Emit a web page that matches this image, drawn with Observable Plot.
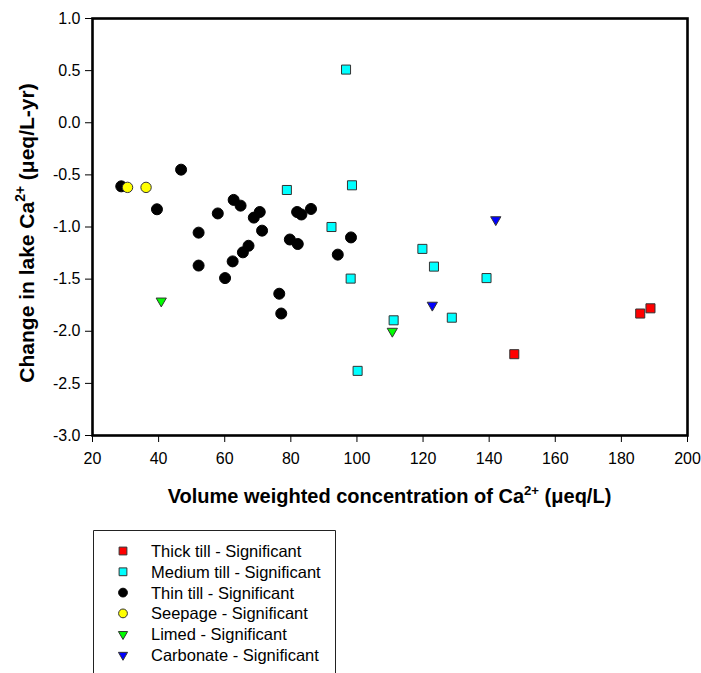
<!DOCTYPE html>
<html><head><meta charset="utf-8">
<script src="https://cdn.jsdelivr.net/npm/d3@7"></script>
<script src="https://cdn.jsdelivr.net/npm/@observablehq/plot@0.6"></script>
<style>body{margin:0;background:#fff;}</style>
</head><body><div id="chart"></div>
<script>
// ---- data ----
const thickX = [147.6, 185.7, 188.8];
const thickY = [-2.22, -1.83, -1.78];
const mediumX = [96.7, 78.8, 98.5, 92.3, 98.1, 111.1, 100.2, 119.8, 123.3, 139.2, 128.7];
const mediumY = [0.51, -0.645, -0.60, -1.00, -1.495, -1.895, -2.38, -1.21, -1.38, -1.49, -1.87];
const thinX = [28.7, 46.8, 39.5, 57.9, 62.7, 64.8, 68.8, 70.6, 71.3, 52.1, 52.1, 62.4, 65.5, 67.2, 60.1, 76.5, 77.1, 81.9, 83.2, 86.1, 79.7, 82.1, 98.2, 94.2];
const thinY = [-0.61, -0.45, -0.83, -0.87, -0.74, -0.795, -0.91, -0.856, -1.035, -1.054, -1.37, -1.33, -1.243, -1.18, -1.49, -1.64, -1.83, -0.856, -0.88, -0.827, -1.12, -1.163, -1.10, -1.265];
const seepageX = [30.6, 36.2];
const seepageY = [-0.62, -0.62];
const limedX = [40.8, 110.7];
const limedY = [-1.71, -2.00];
const carbonateX = [142.0, 122.8];
const carbonateY = [-0.93, -1.75];
const seriesNames = ["Thick till - Significant", "Medium till - Significant", "Thin till - Significant", "Seepage - Significant", "Limed - Significant", "Carbonate - Significant"];
const xTicks = [20, 40, 60, 80, 100, 120, 140, 160, 180, 200];
const yTicks = [1.0, 0.5, 0.0, -0.5, -1.0, -1.5, -2.0, -2.5, -3.0];
const xTitle = ["Volume weighted concentration of Ca", "2+", " (\u03bceq/L)"];
const yTitle = ["Change in lake Ca", "2+", " (\u03bceq/L-yr)"];

// ---- styles ----
const seriesStyle = [
  {symbol: "square", fill: "#FF0000", stroke: "#333", r: 5.1, lr: 4.4},
  {symbol: "square", fill: "#00FFFF", stroke: "#333", r: 5.1, lr: 4.4},
  {symbol: "circle", fill: "#000000", stroke: "#000", r: 5.5, lr: 4.4},
  {symbol: "circle", fill: "#FFFF00", stroke: "#333", r: 5.2, lr: 4.4},
  {symbol: "triangle", fill: "#00FF00", stroke: "#333", r: 3.8, lr: 3.4, rotate: 180},
  {symbol: "triangle", fill: "#0000FF", stroke: "#333", r: 3.8, lr: 3.4, rotate: 180}
];
const seriesX = [thickX, mediumX, thinX, seepageX, limedX, carbonateX];
const seriesY = [thickY, mediumY, thinY, seepageY, limedY, carbonateY];
const tables = seriesX.map((xs, i) => xs.map((x, j) => ({series: seriesNames[i], x, y: seriesY[i][j]})));

const font = "'Liberation Sans', Arial, sans-serif";

const plot = Plot.plot({
  width: 701, height: 673,
  marginLeft: 92, marginRight: 14, marginTop: 18, marginBottom: 238,
  style: {fontFamily: font, fontSize: "16px", color: "black", background: "white"},
  x: {domain: [20, 200]},
  y: {domain: [-3, 1]},
  marks: [
    Plot.axisX({ticks: xTicks, tickSize: 7, tickPadding: 10, fontSize: 16, label: null, tickFormat: d => String(d)}),
    Plot.axisY({ticks: yTicks, tickSize: 7, tickPadding: 5, fontSize: 16, label: null, tickFormat: d => d.toFixed(1)}),
    ...tables.map((t, i) => Plot.dot(t, {
      x: "x", y: "y",
      symbol: seriesStyle[i].symbol,
      r: seriesStyle[i].r,
      fill: seriesStyle[i].fill,
      stroke: seriesStyle[i].stroke,
      strokeWidth: 1,
      rotate: seriesStyle[i].rotate || 0
    })),
    Plot.frame({stroke: "black", strokeWidth: 2.6})
  ]
});

document.getElementById("chart").appendChild(plot);

const svg = d3.select(plot);
const xs = plot.scale("x");
const xMid = (xs.range[0] + xs.range[1]) / 2;

function titled(g, parts, size) {
  const t = g.append("text").attr("text-anchor", "middle").attr("font-weight", "bold")
    .attr("font-family", font).attr("font-size", size).attr("fill", "black");
  t.append("tspan").text(parts[0]);
  t.append("tspan").attr("font-size", size * 0.66).attr("dy", -size * 0.42).text(parts[1]);
  t.append("tspan").attr("dy", size * 0.42).text(parts[2]);
  return t;
}
titled(svg.append("g").attr("transform", `translate(${xMid},503)`), xTitle, 20);
titled(svg.append("g").attr("transform", `translate(34,233) rotate(-90)`), yTitle, 21);

// legend
const lg = svg.append("g");
lg.append("path").attr("d", "M93.5,673V530.5H335.5V673").attr("fill", "none").attr("stroke", "#222").attr("stroke-width", 1);
const rowY = 551, rowStep = 20.8;
seriesNames.forEach((name, i) => {
  const st = seriesStyle[i];
  const cy = rowY + i * rowStep;
  const sym = st.symbol === "square" ? d3.symbolSquare : st.symbol === "circle" ? d3.symbolCircle : d3.symbolTriangle;
  lg.append("path")
    .attr("d", d3.symbol(sym, Math.PI * st.lr * st.lr)())
    .attr("transform", `translate(123,${cy}) rotate(${st.rotate || 0})`)
    .attr("fill", st.fill).attr("stroke", st.stroke).attr("stroke-width", 1);
  lg.append("text").attr("x", 151).attr("y", cy).attr("dy", "0.36em")
    .attr("text-anchor", "start")
    .attr("font-family", font).attr("font-size", 16.5).attr("fill", "black").text(name);
});
</script>
</body></html>
